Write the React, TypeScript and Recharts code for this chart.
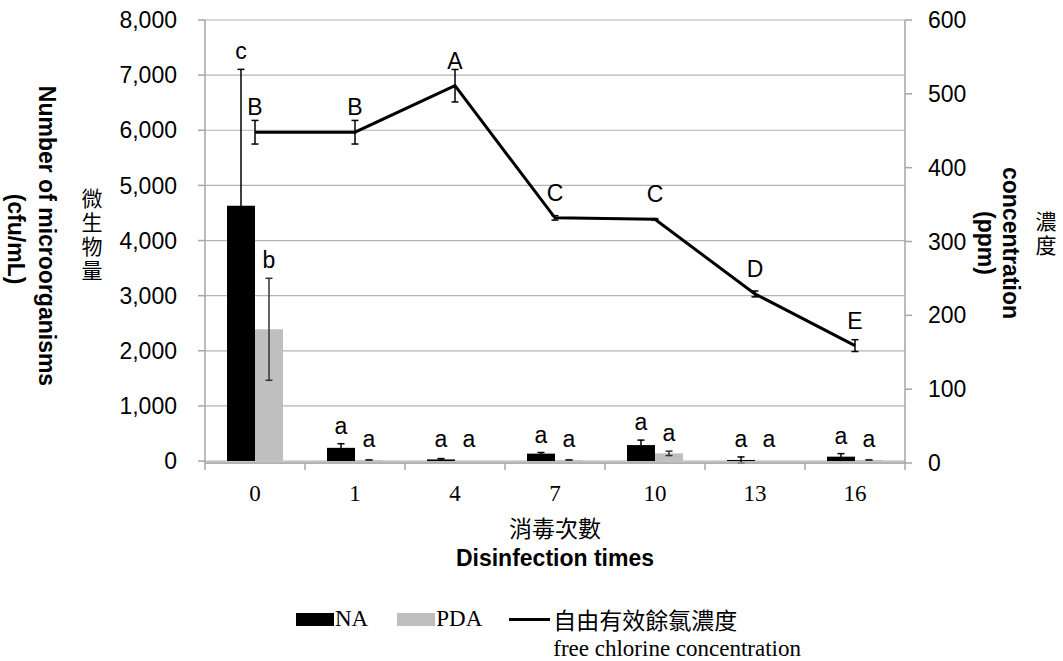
import { ComposedChart, Bar, Line, XAxis, YAxis, CartesianGrid, ErrorBar, LabelList, Legend } from 'recharts';

const times = ['0', '1', '4', '7', '10', '13', '16'];
const naCount = [4630, 240, 30, 135, 290, 20, 80];
const naError = [2475, 75, 15, 20, 90, 55, 55];
const pdaCount = [2390, 20, 3, 20, 140, 3, 20];
const pdaError = [925, 5, 0, 5, 40, 0, 5];
const chlorine = [448, 448, 511, 332, 330, 229, 159];
const chlorineError = [16, 16, 22, 3, 1, 4, 8];
const naLetters = ['c', 'a', 'a', 'a', 'a', 'a', 'a'];
const pdaLetters = ['b', 'a', 'a', 'a', 'a', 'a', 'a'];
const chlorineLetters = ['B', 'B', 'A', 'C', 'C', 'D', 'E'];
const countTicks = [0, 1000, 2000, 3000, 4000, 5000, 6000, 7000, 8000];
const ppmTicks = [0, 100, 200, 300, 400, 500, 600];

const SANS = '"Liberation Sans", Arial, sans-serif';
const SERIF = '"Liberation Serif", "Times New Roman", serif';
const CJK = '"Noto Sans CJK TC", sans-serif';
const GRID = '#b4b4b4';
const AXIS = '#a6a6a6';
const TICK_SIZE = 7;
const X_TICK_MARGIN = 15;

const data = times.map((time, i) => ({
    time,
    na: naCount[i],
    naErr: naError[i],
    pda: pdaCount[i],
    pdaErr: pdaError[i],
    cl: chlorine[i],
    clErr: chlorineError[i],
}));

// letters sit just above the error bar cap, never lower than a minimum height
function barLetter(letters: string[], values: number[], errors: number[]) {
    return (props: any) => {
        const { x, y, width, height, index } = props;
        const v = values[index];
        const bottom = Number(y) + Number(height);
        const perUnit = v > 0 ? Number(height) / v : 0;
        const capY = bottom - (v + errors[index]) * perUnit;
        const baseline = Math.min(capY - 10, bottom - 14);
        return (
            <text x={Number(x) + Number(width) / 2} y={baseline} textAnchor="middle" fontSize={23} fontFamily={SANS} fill="#000">
                {letters[index]}
            </text>
        );
    };
}

function lineLetter(props: any) {
    const { x, y, index } = props;
    return (
        <text x={x} y={Number(y) - 17} textAnchor="middle" fontSize={23} fontFamily={SANS} fill="#000">
            {chlorineLetters[index]}
        </text>
    );
}

function TimeTick(props: any) {
    const { x, y, payload, index, visibleTicksCount } = props;
    const half = payload?.offset || 50;
    const y1 = y - X_TICK_MARGIN - TICK_SIZE;
    const y2 = y - X_TICK_MARGIN;
    return (
        <g>
            <line x1={x - half} x2={x - half} y1={y1} y2={y2} stroke={AXIS} strokeWidth={1.5} />
            {index === visibleTicksCount - 1 && (
                <line x1={x + half} x2={x + half} y1={y1} y2={y2} stroke={AXIS} strokeWidth={1.5} />
            )}
            <text x={x} y={y} dy="0.71em" textAnchor="middle" fontSize={23} fontFamily={SERIF} fill="#000">
                {payload.value}
            </text>
        </g>
    );
}

function XTitle(props: any) {
    const { x, y, width } = props.viewBox;
    const cx = x + width / 2;
    return (
        <g>
            <text x={cx} y={y + 64} dominantBaseline="central" textAnchor="middle" fontSize={23} fontFamily={CJK} fill="#000">
                消毒次數
            </text>
            <text x={cx} y={y + 95} dominantBaseline="central" textAnchor="middle" fontSize={23} fontWeight="bold" fontFamily={SANS} fill="#000">
                Disinfection times
            </text>
        </g>
    );
}

// upright CJK characters running top to bottom
function stacked(chars: string, cx: number, top: number) {
    return (
        <text
            x={cx}
            y={top}
            style={{ writingMode: 'vertical-rl', letterSpacing: 3 }}
            fontSize={21}
            fontFamily={CJK}
            fill="#000"
        >
            {chars}
        </text>
    );
}

function rotated(label: string, cx: number, cy: number) {
    return (
        <text
            x={cx}
            y={cy}
            transform={`rotate(90, ${cx}, ${cy})`}
            textAnchor="middle"
            dominantBaseline="central"
            fontSize={23}
            fontWeight="bold"
            fontFamily={SANS}
            fill="#000"
        >
            {label}
        </text>
    );
}

function LeftTitle(props: any) {
    const { x } = props.viewBox;
    return (
        <g>
            {rotated('Number of microorganisms', x + 47, 236)}
            {rotated('(cfu/mL)', x + 16, 239)}
            {stacked('微生物量', x + 92, 188)}
        </g>
    );
}

function RightTitle(props: any) {
    const { x } = props.viewBox;
    return (
        <g>
            {rotated('concentration', x + 106, 243)}
            {rotated('(ppm)', x + 81, 243)}
            {stacked('濃度', x + 141, 211)}
        </g>
    );
}

function ChartLegend(props: any) {
    const items = props.payload || [];
    return (
        <div style={{ display: 'flex', alignItems: 'flex-start', fontFamily: SERIF, fontSize: 23, lineHeight: '30px', color: '#000' }}>
            {items.map((entry: any, i: number) => {
                const lines = String(entry.value).split('\n');
                const isLine = entry.type === 'line';
                return (
                    <div key={i} style={{ display: 'flex', alignItems: 'flex-start', marginRight: i === 0 ? 29 : 27 }}>
                        {isLine ? (
                            <span style={{ display: 'inline-block', width: 41, height: 3, marginTop: 14, marginRight: 3, background: entry.color }} />
                        ) : (
                            <span style={{ display: 'inline-block', width: 38, height: 13, marginTop: 9, marginRight: 1, background: entry.color }} />
                        )}
                        <div>
                            {lines.map((l, j) => (
                                <div key={j} style={{ fontFamily: /[\u4e00-\u9fff]/.test(l) ? CJK : SERIF, whiteSpace: 'nowrap' }}>
                                    {l}
                                </div>
                            ))}
                        </div>
                    </div>
                );
            })}
        </div>
    );
}

export default function App() {
    return (
        <div style={{ position: 'absolute', left: 0, top: 0, background: '#fff' }}>
            <ComposedChart
                width={1063}
                height={661}
                data={data}
                margin={{ top: 20, right: 0, left: 0, bottom: 138 }}
                barCategoryGap="22%"
                barGap={0}
            >
                <CartesianGrid vertical={false} yAxisId="left" stroke={GRID} strokeWidth={1.2} />
                <XAxis
                    dataKey="time"
                    height={60}
                    interval={0}
                    tickSize={TICK_SIZE}
                    tickMargin={X_TICK_MARGIN}
                    tickLine={false}
                    axisLine={{ stroke: AXIS, strokeWidth: 1.5 }}
                    tick={<TimeTick />}
                    label={XTitle}
                />
                <YAxis
                    yAxisId="left"
                    width={205}
                    domain={[0, 8000]}
                    ticks={countTicks}
                    interval={0}
                    tickSize={TICK_SIZE}
                    tickMargin={21}
                    tickFormatter={(v: number) => v.toLocaleString('en-US')}
                    tick={{ fontSize: 23, fill: '#000', fontFamily: SANS }}
                    tickLine={{ stroke: AXIS, strokeWidth: 1.5 }}
                    axisLine={{ stroke: AXIS, strokeWidth: 1.5 }}
                    label={LeftTitle}
                />
                <YAxis
                    yAxisId="right"
                    orientation="right"
                    width={158}
                    domain={[0, 600]}
                    ticks={ppmTicks}
                    interval={0}
                    tickSize={TICK_SIZE}
                    tickMargin={16}
                    tick={{ fontSize: 23, fill: '#000', fontFamily: SANS }}
                    tickLine={{ stroke: AXIS, strokeWidth: 1.5 }}
                    axisLine={{ stroke: AXIS, strokeWidth: 1.5 }}
                    label={RightTitle}
                />
                <Bar yAxisId="left" dataKey="na" name="NA" fill="#000000" isAnimationActive={false}>
                    <ErrorBar dataKey="naErr" width={3.5} stroke="#000" strokeWidth={1.5} direction="y" />
                    <LabelList dataKey="na" content={barLetter(naLetters, naCount, naError)} />
                </Bar>
                <Bar yAxisId="left" dataKey="pda" name="PDA" fill="#bfbfbf" isAnimationActive={false}>
                    <ErrorBar dataKey="pdaErr" width={3.5} stroke="#333" strokeWidth={1.5} direction="y" />
                    <LabelList dataKey="pda" content={barLetter(pdaLetters, pdaCount, pdaError)} />
                </Bar>
                <Line
                    yAxisId="right"
                    dataKey="cl"
                    name={'自由有效餘氯濃度\nfree chlorine concentration'}
                    stroke="#000"
                    strokeWidth={3}
                    dot={false}
                    isAnimationActive={false}
                >
                    <ErrorBar dataKey="clErr" width={3.5} stroke="#000" strokeWidth={1.5} direction="y" />
                    <LabelList dataKey="cl" content={lineLetter} />
                </Line>
                <Legend
                    layout="horizontal"
                    verticalAlign="middle"
                    align="center"
                    content={ChartLegend}
                    wrapperStyle={{ left: 296, top: 604, width: 640, height: 70 }}
                />
            </ComposedChart>
        </div>
    );
}
